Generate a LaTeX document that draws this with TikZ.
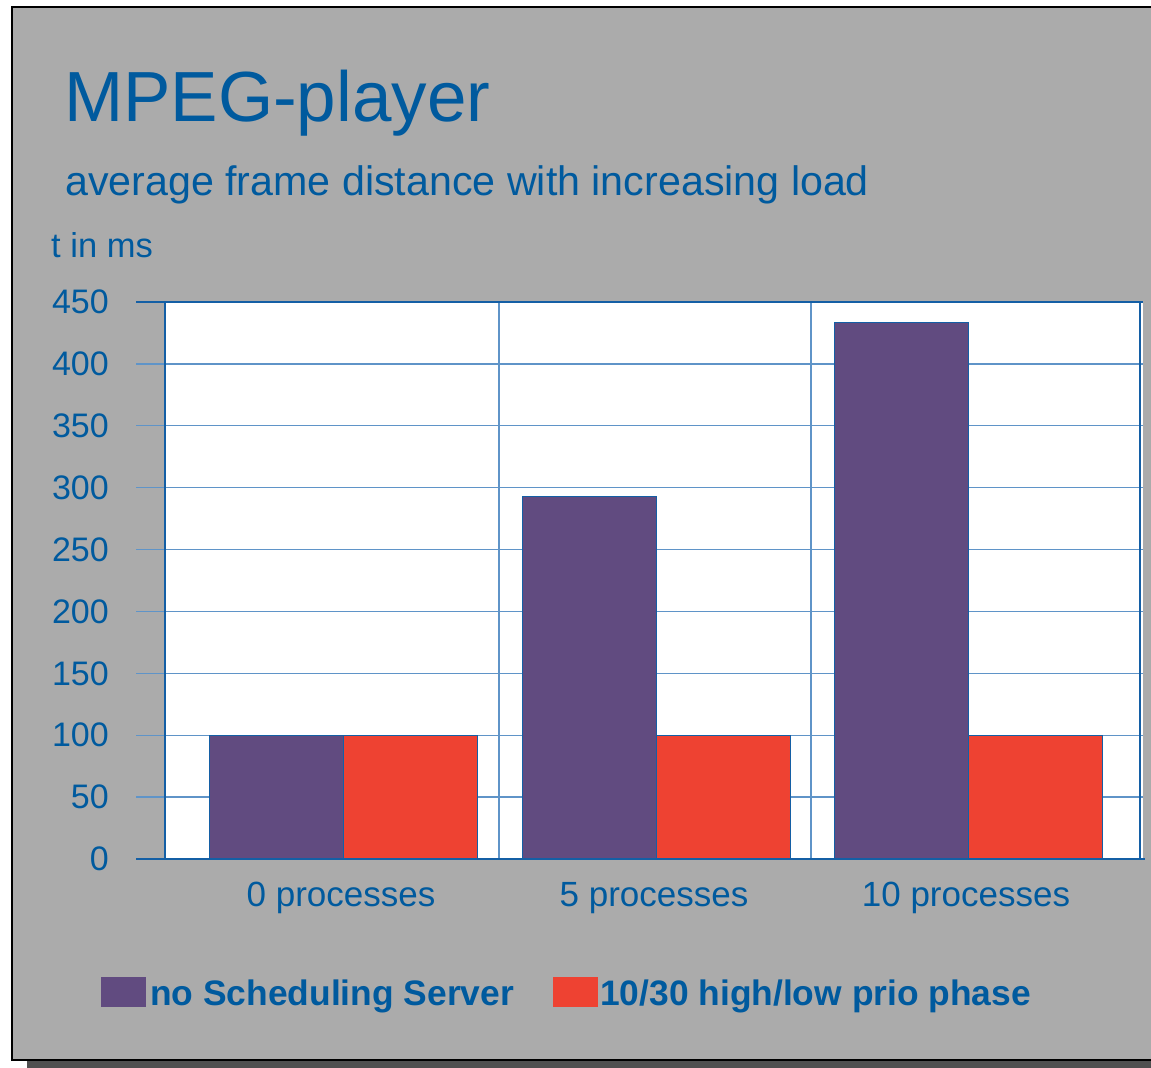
\documentclass[tikz,border=0pt]{standalone}
\usepackage{fontspec}
\setmainfont{Liberation Sans}
\definecolor{bg}{RGB}{171,171,171}
\definecolor{txtblue}{RGB}{0,90,158}
\definecolor{axisblue}{RGB}{20,95,165}
\definecolor{gridblue}{RGB}{95,148,200}
\definecolor{barpurple}{RGB}{97,75,128}
\definecolor{barred}{RGB}{238,66,50}
\definecolor{shadow}{RGB}{80,80,80}
\begin{document}
\begin{tikzpicture}[x=1pt,y=-1pt,
  lbl/.style={inner sep=0pt,text=txtblue},
  ylbl/.style={lbl,anchor=east,font=\fontsize{34}{40}\selectfont},
  catlbl/.style={lbl,anchor=base,font=\fontsize{35}{40}\selectfont},
  leglbl/.style={lbl,anchor=base west,font=\fontsize{35.4}{42}\selectfont\bfseries},
  grid/.style={gridblue,line width=1.4pt},
  axis/.style={axisblue,line width=1.3pt},
  bar/.style={draw=axisblue,line width=0.8pt}]
\useasboundingbox (0,0) rectangle (1151,1068);
\clip (0,0) rectangle (1151,1068);
\fill[white] (0,0) rectangle (1151,1068);
% shadow and frame
\fill[shadow] (27,1060) rectangle (1170,1075);
\fill[bg] (12,7) rectangle (1170,1060);
\draw[black,line width=1.2pt] (1170,7) -- (12,7) -- (12,1060) -- (1170,1060);
% titles
\node[lbl,anchor=base west,font=\fontsize{71}{85}\selectfont] (title) at (64,121.7) {MPEG-player};
\node[lbl,anchor=base west,font=\fontsize{41.2}{49}\selectfont] (sub) at (65,195) {average frame distance with increasing load};
\node[lbl,anchor=base west,font=\fontsize{34.5}{40}\selectfont] (unit) at (51,257) {t in ms};
% plot area
\fill[white] (165,302) rectangle (1143,859);
\foreach \v in {1,...,8} {
  \draw[grid] (136,{859-\v*61.89}) -- (1143,{859-\v*61.89});
}
\draw[grid] (499,302) -- (499,859);
\draw[grid] (811,302) -- (811,859);
% bars
\filldraw[bar,fill=barpurple] (209,859) rectangle (343,735.2) coordinate (b1);
\filldraw[bar,fill=barred] (343,859) rectangle (477,735.2) coordinate (b2);
\filldraw[bar,fill=barpurple] (522,859) rectangle (656,496) coordinate (b3);
\filldraw[bar,fill=barred] (656,859) rectangle (790,735.2) coordinate (b4);
\filldraw[bar,fill=barpurple] (834,859) rectangle (968,322) coordinate (b5);
\filldraw[bar,fill=barred] (968,859) rectangle (1102,735.2) coordinate (b6);
% axes
\draw[axis] (136,302) -- (1143,302);
\draw[axis] (165,302) -- (165,859);
\draw[axis] (1140,302) -- (1140,859);
\draw[axis] (136,859) -- (1145,859);
% y labels
\foreach \v [count=\i from 0] in {0,50,100,150,200,250,300,350,400,450} {
  \node[ylbl] (y\i) at (109,{859-\i*61.89}) {\v};
}
% category labels
\node[catlbl] (c0) at (341,906) {0 processes};
\node[catlbl] (c5) at (654,906) {5 processes};
\node[catlbl] (c10) at (966,906) {10 processes};
% legend
\fill[barpurple] (101,977) rectangle (146,1007);
\node[leglbl] (l1) at (150,1005) {no Scheduling Server};
\fill[barred] (553,977) rectangle (598,1007);
\node[leglbl] (l2) at (600,1005) {10/30 high/low prio phase};
\end{tikzpicture}
\end{document}
